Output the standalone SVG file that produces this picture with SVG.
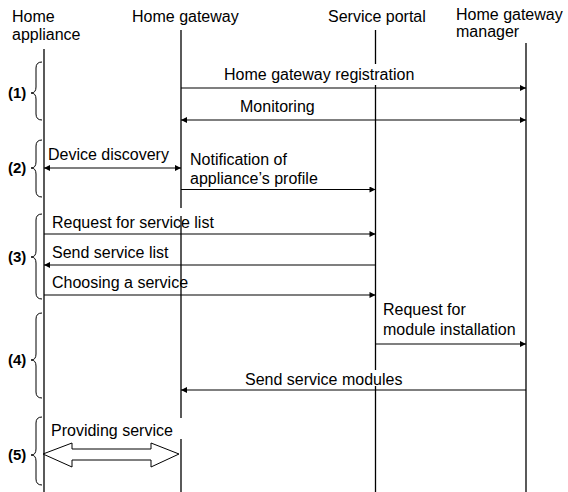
<svg xmlns="http://www.w3.org/2000/svg" width="568" height="492" viewBox="0 0 568 492">
<style>
  text { font-family: "Liberation Sans", Arial, sans-serif; font-size: 16px; fill: #000; }
  .lbl { font-weight: bold; font-size: 15px; }
  .life { stroke: #000; stroke-width: 1.3; fill: none; }
  .msg { stroke: #000; stroke-width: 1.2; fill: none; }
  .brace { stroke: #000; stroke-width: 1; fill: none; }
  .mask { fill: #fff; stroke: none; }
</style>
<defs>
  <marker id="ah" viewBox="0 0 10 10" refX="10" refY="5" markerWidth="8" markerHeight="6" markerUnits="userSpaceOnUse" orient="auto-start-reverse">
    <path d="M0,0 L10,5 L0,10 z" fill="#000"/>
  </marker>
</defs>
<rect width="568" height="492" fill="#fff"/>

<g id="lifelines">
  <g id="home-appliance">
    <text x="12" y="22">Home</text>
    <text x="12" y="40">appliance</text>
    <line class="life" x1="44" y1="49" x2="44" y2="492"/>
  </g>
  <g id="home-gateway">
    <text x="132" y="22">Home gateway</text>
    <line class="life" x1="181" y1="30" x2="181" y2="492"/>
  </g>
  <g id="service-portal">
    <text x="328" y="22">Service portal</text>
    <line class="life" x1="375.5" y1="30" x2="375.5" y2="492"/>
  </g>
  <g id="hg-manager">
    <text x="456" y="20">Home gateway</text>
    <text x="456" y="37">manager</text>
    <line class="life" x1="526" y1="43" x2="526" y2="492"/>
  </g>
</g>

<g id="phases">
  <g id="phase1">
    <path class="brace" d="M42,62 Q36,62 36,68 L36,87 Q36,93 31,93 Q36,93 36,99 L36,114 Q36,120 42,120"/>
    <text class="lbl" x="8" y="98">(1)</text>
  </g>
  <g id="phase2">
    <path class="brace" d="M42,140 Q36,140 36,146 L36,162 Q36,168 31,168 Q36,168 36,174 L36,191 Q36,197 42,197"/>
    <text class="lbl" x="8" y="173">(2)</text>
  </g>
  <g id="phase3">
    <path class="brace" d="M42,214 Q36,214 36,220 L36,251 Q36,257 31,257 Q36,257 36,263 L36,293 Q36,299 42,299"/>
    <text class="lbl" x="8" y="262">(3)</text>
  </g>
  <g id="phase4">
    <path class="brace" d="M42,313 Q36,313 36,319 L36,354 Q36,360 31,360 Q36,360 36,366 L36,392 Q36,398 42,398"/>
    <text class="lbl" x="8" y="365">(4)</text>
  </g>
  <g id="phase5">
    <path class="brace" d="M42,417 Q36,417 36,423 L36,449 Q36,455 31,455 Q36,455 36,461 L36,479 Q36,485 42,485"/>
    <text class="lbl" x="8" y="460">(5)</text>
  </g>
</g>

<g id="connectors">
  <rect class="mask" x="222" y="64" width="198" height="21"/>
  <text x="224" y="80">Home gateway registration</text>
  <line class="msg" x1="181" y1="88" x2="526" y2="88" marker-end="url(#ah)"/>

  <text x="240" y="112">Monitoring</text>
  <line class="msg" x1="181" y1="120" x2="526" y2="120" marker-start="url(#ah)" marker-end="url(#ah)"/>

  <text x="48" y="160">Device discovery</text>
  <line class="msg" x1="44" y1="168" x2="181" y2="168" marker-start="url(#ah)" marker-end="url(#ah)"/>

  <text x="190" y="165">Notification of</text>
  <text x="190" y="184">appliance’s profile</text>
  <line class="msg" x1="181" y1="189.5" x2="375.5" y2="189.5" marker-end="url(#ah)"/>

  <rect class="mask" x="176" y="208" width="10" height="8"/>
  <text x="52" y="228">Request for service list</text>
  <line class="msg" x1="44" y1="234" x2="375.5" y2="234" marker-end="url(#ah)"/>

  <text x="52" y="258">Send service list</text>
  <line class="msg" x1="375.5" y1="265" x2="44" y2="265" marker-end="url(#ah)"/>

  <text x="52" y="288">Choosing a service</text>
  <line class="msg" x1="44" y1="295" x2="375.5" y2="295" marker-end="url(#ah)"/>

  <text x="383" y="315">Request for</text>
  <text x="383" y="335">module installation</text>
  <line class="msg" x1="375.5" y1="344" x2="526" y2="344" marker-end="url(#ah)"/>

  <rect class="mask" x="243" y="370" width="164" height="16"/>
  <text x="245" y="385">Send service modules</text>
  <line class="msg" x1="526" y1="390" x2="181" y2="390" marker-end="url(#ah)"/>

  <rect class="mask" x="48" y="418" width="136" height="21"/>
  <text x="51" y="436">Providing service</text>
  <path d="M43,454 L72,443 L72,449 L151,449 L151,443 L179,454 L151,467 L151,460 L72,460 L72,467 Z" fill="#fff" stroke="#000" stroke-width="1"/>
</g>
</svg>
